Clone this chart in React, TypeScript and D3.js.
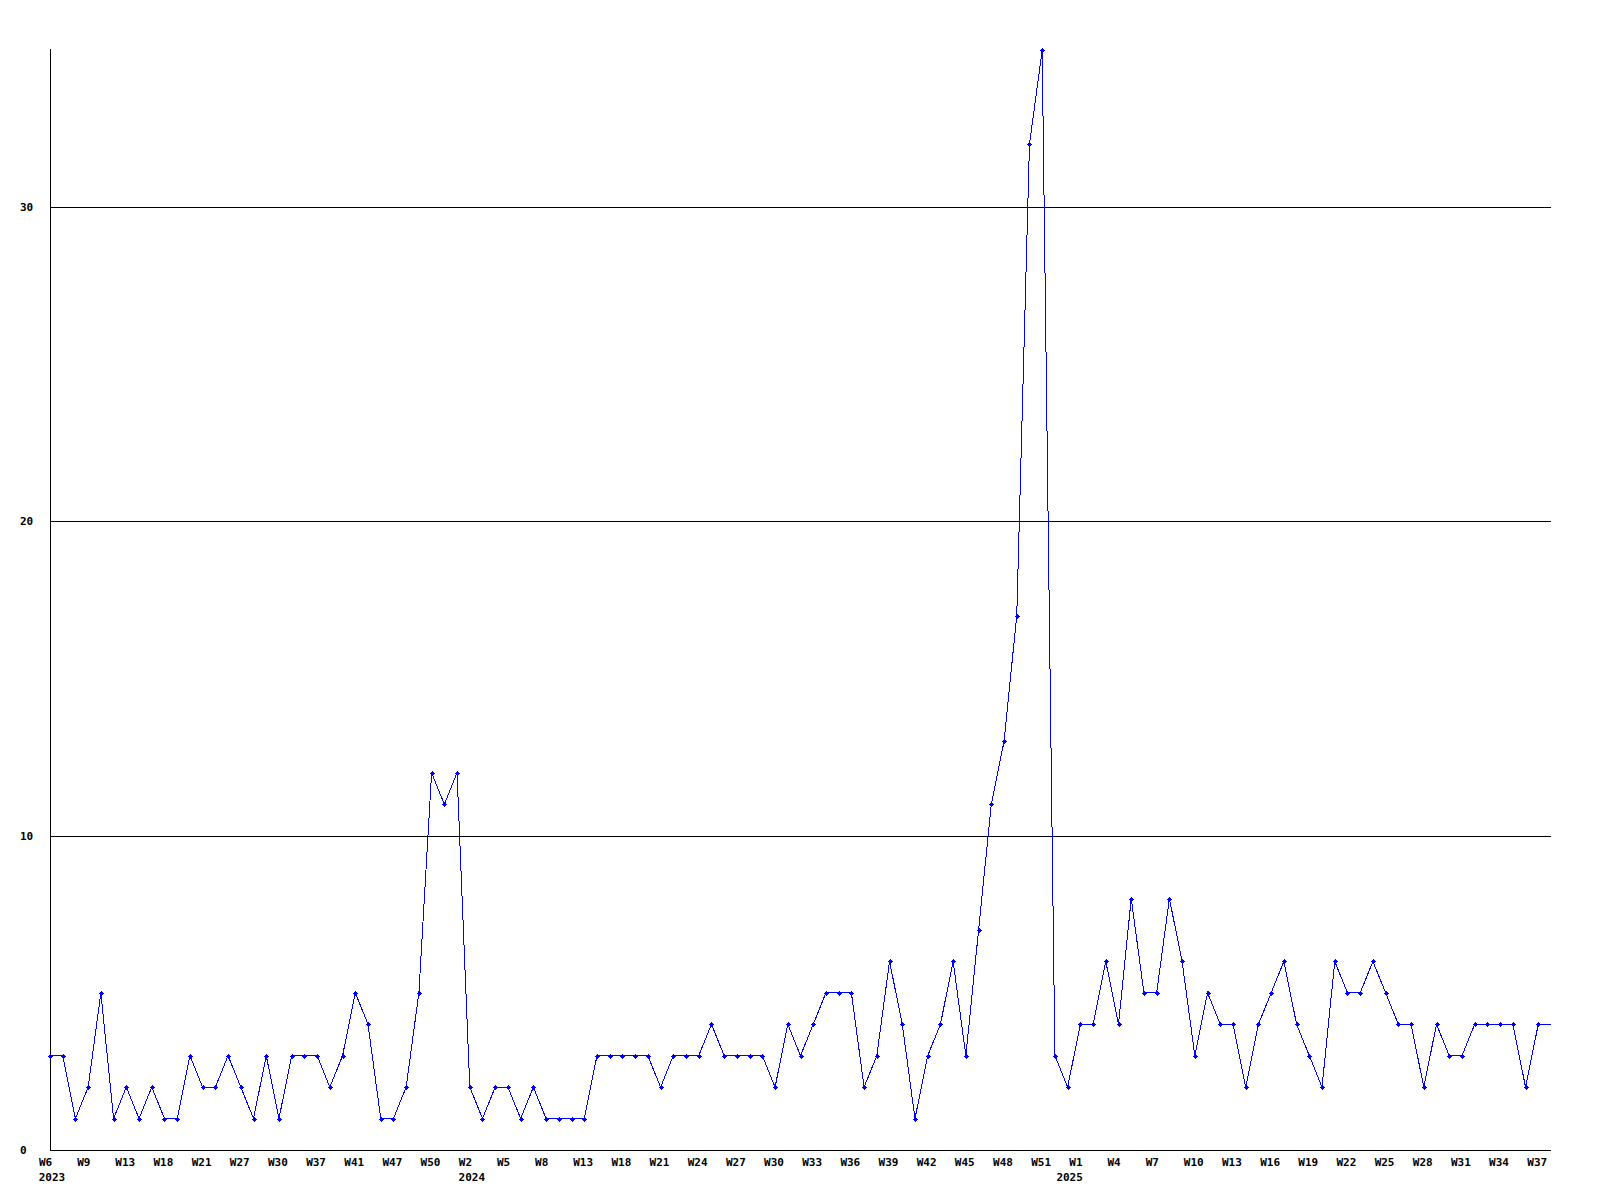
import React from 'react'
import { scaleLinear, line } from 'd3'

// weekly counts, one per point (last one sits on the right edge, no marker)
const values = [
  3, 3, 1, 2, 5, 1, 2, 1, 2, 1,
  1, 3, 2, 2, 3, 2, 1, 3, 1, 3,
  3, 3, 2, 3, 5, 4, 1, 1, 2, 5,
  12, 11, 12, 2, 1, 2, 2, 1, 2, 1,
  1, 1, 1, 3, 3, 3, 3, 3, 2, 3,
  3, 3, 4, 3, 3, 3, 3, 2, 4, 3,
  4, 5, 5, 5, 2, 3, 6, 4, 1, 3,
  4, 6, 3, 7, 11, 13, 17, 32, 35, 3,
  2, 4, 4, 6, 4, 8, 5, 5, 8, 6,
  3, 5, 4, 4, 2, 4, 5, 6, 4, 3,
  2, 6, 5, 5, 6, 5, 4, 4, 2, 4,
  3, 3, 4, 4, 4, 4, 2, 4, 4,
]

// a label every 3rd point
const tickLabels = [
  'W6', 'W9', 'W13', 'W18', 'W21', 'W27', 'W30', 'W37', 'W41', 'W47', 'W50',
  'W2', 'W5', 'W8', 'W13', 'W18', 'W21', 'W24', 'W27', 'W30', 'W33', 'W36',
  'W39', 'W42', 'W45', 'W48', 'W51',
  'W1', 'W4', 'W7', 'W10', 'W13', 'W16', 'W19', 'W22', 'W25', 'W28', 'W31',
  'W34', 'W37',
]
const tickStep = 3
const years = ['2023', '2024', '2025']
const yearPoints = [0, 33, 80] // first point of each year

const yTicks = [0, 10, 20, 30]
const yMax = 35

const width = 1600
const height = 1200
const left = 50
const right = 1551
const top = 50
const bottom = 1150

const font = '"DejaVu Sans Mono", monospace'
const blue = '#0000ff'

export default function App() {
  const x = scaleLinear().domain([0, values.length - 1]).range([left, right])
  const y = scaleLinear().domain([0, yMax]).range([bottom, top])

  const path = line<number>()
    .x((d, i) => x(i))
    .y(d => y(d))

  const px = (v: number) => Math.round(v) + 0.5

  return (
    <div style={{ position: 'absolute', left: 0, top: 0 }}>
      <svg width={width} height={height} style={{ display: 'block', background: '#fff' }}>
        {/* grid */}
        {yTicks.filter(t => t > 0).map(t => (
          <line key={'g' + t} x1={left} x2={right} y1={px(y(t))} y2={px(y(t))}
            stroke="#000" strokeWidth={1} shapeRendering="crispEdges" />
        ))}
        {yTicks.map(t => (
          <text key={'yl' + t} x={20} y={Math.round(y(t)) + 4} fontFamily={font}
            fontWeight="bold" fontSize={11} fill="#000">{t}</text>
        ))}

        {/* axes */}
        <line x1={px(left)} x2={px(left)} y1={top - 1} y2={px(bottom)} stroke="#000" shapeRendering="crispEdges" />
        <line x1={left} x2={right} y1={px(bottom)} y2={px(bottom)} stroke="#000" shapeRendering="crispEdges" />

        {/* week labels */}
        {tickLabels.map((lab, k) => (
          <text key={'xl' + k} x={x(k * tickStep) - 11} y={1166} fontFamily={font}
            fontWeight="bold" fontSize={11} fill="#000">{lab}</text>
        ))}
        {years.map((yr, k) => (
          <text key={'yr' + yr} x={x(yearPoints[k]) + 2} y={1181} fontFamily={font}
            fontWeight="bold" fontSize={11} fill="#000" textAnchor="middle">{yr}</text>
        ))}

        {/* series */}
        <path d={path(values) || ''} fill="none" stroke={blue} strokeWidth={1}
          shapeRendering="crispEdges" />
        {values.slice(0, values.length - 1).map((v, i) => (
          <g key={'m' + i} transform={`translate(${Math.round(x(i)) + 0.5},${Math.round(y(v)) + 0.5})`}>
            <path d="M-2.5,0H2.5M0,-2.5V2.5" stroke={blue} strokeWidth={1} shapeRendering="crispEdges" />
            <rect x={-1.5} y={-1.5} width={3} height={3} fill={blue} />
          </g>
        ))}
      </svg>
    </div>
  )
}
